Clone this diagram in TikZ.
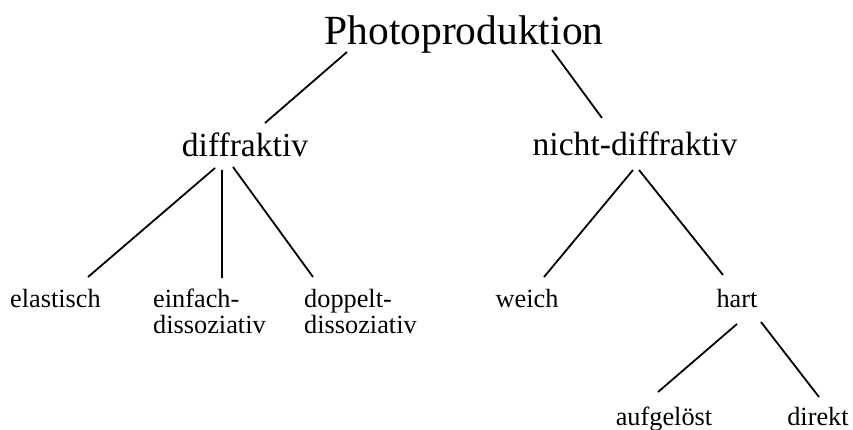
\documentclass[tikz,border=0pt]{standalone}
\usepackage{fontspec}
\setmainfont{Liberation Serif}
\usetikzlibrary{calc}
\begin{document}
\begin{tikzpicture}[x=1pt,y=-1pt,
  big/.style={inner sep=0pt,anchor=base,font=\fontsize{41.5}{45}\selectfont},
  mid/.style={inner sep=0pt,anchor=base,font=\fontsize{33.6}{36}\selectfont},
  small/.style={inner sep=0pt,anchor=base,font=\fontsize{26.3}{26}\selectfont},
  smallml/.style={inner sep=0pt,anchor=base west,align=left,font=\fontsize{26.3}{26}\selectfont},
  edge/.style={line width=1.8pt,black}]
\useasboundingbox (0,0) rectangle (853,430);
\node[big] (photo) at (464,45) {Photoproduktion};
\node[mid] (diff) at (245,157) {diffraktiv};
\node[mid] (nicht) at (635,156) {nicht-diffraktiv};
\node[small] (elas) at (55.5,307) {elastisch};
\node[smallml] (einf) at (153,333) {einfach-\\dissoziativ};
\node[smallml] (dopp) at (304,333) {doppelt-\\dissoziativ};
\node[small] (weich) at (527,307) {weich};
\node[small] (hart) at (737,307) {hart};
\node[small] (aufg) at (664,425) {aufgelöst};
\node[small] (dir) at (818,425) {direkt};
\draw[edge] ($(photo.base)+(-117,7)$) -- ($(diff.base)+(20,-34)$);
\draw[edge] ($(photo.base)+(88,5)$) -- ($(nicht.base)+(-33,-38)$);
\draw[edge] ($(diff.base)+(-30,11)$) -- ($(elas.base)+(32.5,-30)$);
\draw[edge] ($(diff.base)+(-23,13)$) -- ($(einf.base west)+(69,-55)$);
\draw[edge] ($(diff.base)+(-12,10)$) -- ($(dopp.base west)+(9,-56)$);
\draw[edge] ($(nicht.base)+(-2,14)$) -- ($(weich.base)+(17,-30)$);
\draw[edge] ($(nicht.base)+(4,14)$) -- ($(hart.base)+(-14,-32)$);
\draw[edge] ($(hart.base)+(0,17)$) -- ($(aufg.base)+(-6,-33)$);
\draw[edge] ($(hart.base)+(24,15)$) -- ($(dir.base)+(1,-28)$);
\end{tikzpicture}
\end{document}
